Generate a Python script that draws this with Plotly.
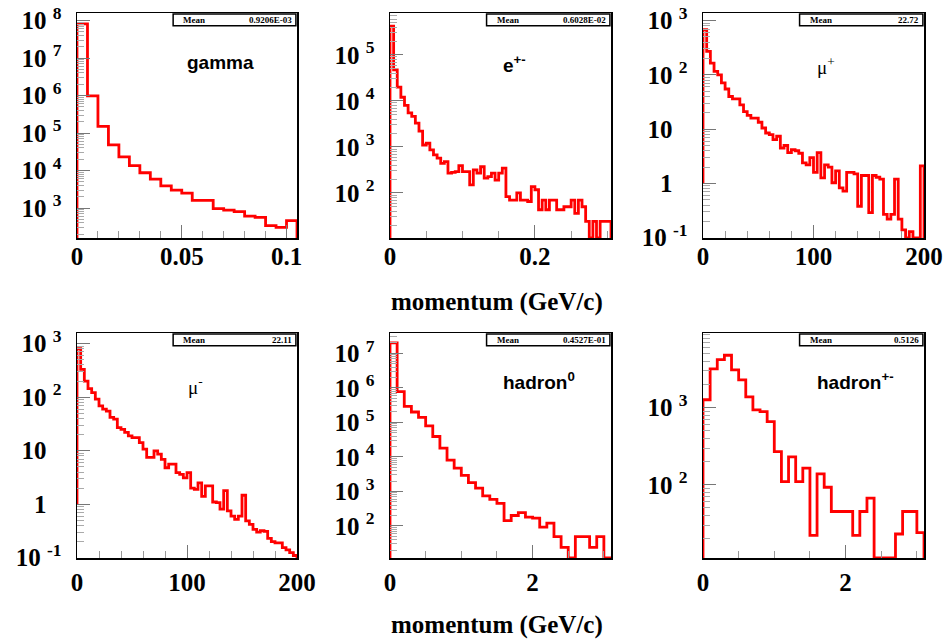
import numpy as np
import plotly.graph_objects as go

# ---------------- data ----------------
gamma_range = (0.0, 0.105)
gamma_counts = [8.1e7, 9.8e5, 1.5e5, 4.8e4, 2.3e4, 1.35e4, 8.7e3, 5.9e3, 3.9e3, 3.0e3,
                2.5e3, 1.6e3, 1.6e3, 960, 880, 800, 610, 565, 340, 305, 460]

epm_range = (0.0, 0.305)
epm_counts = [4.2e5, 4.7e4, 2.0e4, 1.2e4, 8.0e3, 5.5e3, 4.6e3, 3.3e3, 2.2e3, 1.1e3,
              1.2e3, 860, 670, 570, 440, 480, 270, 280, 290, 390,
              290, 290, 150, 316, 270, 370, 210, 225, 270, 190,
              270, 345, 83, 70, 70, 100, 70, 70, 65, 137,
              117, 43, 70, 43, 70, 70, 43, 43, 50, 50,
              70, 36, 70, 50, 24, 0, 24, 0, 24, 24, 24]

mup_range = (0.0, 200.0)
mup_counts = [680, 270, 165, 116, 100, 71, 55, 40, 36, 36,
              28, 21, 18, 16, 16, 13.4, 10.5, 8.5, 7.9, 6.4,
              7.4, 4.5, 5.0, 3.7, 4.2, 4.0, 3.6, 2.4, 2.2, 3.0,
              1.6, 3.7, 1.27, 2.2, 2.0, 1.03, 1.7, 0.83, 0.72, 1.6,
              1.6, 1.5, 0.38, 1.4, 1.4, 0.29, 1.4, 1.3, 1.2, 0.27,
              0.22, 0.27, 1.2, 0.22, 0.14, 0, 0.13, 0, 0, 2.1]

mum_range = (0.0, 200.0)
mum_counts = [810, 330, 200, 145, 122, 92, 69, 60, 55, 42,
              39, 27, 25, 22, 19, 17.6, 17.6, 14.2, 10.7, 7.5,
              7.5, 9.9, 8.6, 6.9, 4.8, 5.6, 5.6, 3.9, 3.6, 3.1,
              3.9, 2.0, 1.9, 2.5, 1.4, 2.2, 2.2, 1.1, 1.07, 0.81,
              1.8, 0.75, 0.6, 0.52, 0.6, 1.47, 0.49, 0.42, 0.34, 0.30,
              0.32, 0.31, 0.23, 0.2, 0.19, 0.19, 0.155, 0.14, 0.125, 0.11]

h0_range = (0.0, 3.1)
h0_counts = [2.0e7, 7.8e5, 2.9e5, 2.0e5, 1.4e5, 7.9e4, 3.9e4, 1.8e4, 8.1e3, 4.7e3,
             2.9e3, 1.8e3, 1.24e3, 740, 590, 450, 142, 200, 244, 180,
             167, 92, 120, 49, 24, 0, 49, 49, 24, 49, 0]

hpm_range = (0.0, 3.1)
hpm_counts = [1270, 3200, 4200, 4800, 3100, 2300, 1380, 940, 890, 660,
              270, 110, 230, 110, 165, 22, 139, 93, 45, 45,
              45, 22, 45, 67, 0, 0, 0, 23, 45, 45, 24]

labels = ["gamma", "e<sup>+-</sup>", "\u03bc<sup>+</sup>", "\u03bc<sup>-</sup>",
          "hadron<sup>0</sup>", "hadron<sup>+-</sup>"]
means = ["0.9206E-03", "0.6028E-02", "22.72", "22.11", "0.4527E-01", "0.5126"]
x_title = "momentum (GeV/c)"

x_ticks = [[0, 0.05, 0.1], [0, 0.2], [0, 100, 200], [0, 100, 200], [0, 2], [0, 2]]
x_ticktext = [["0", "0.05", "0.1"], ["0", "0.2"], ["0", "100", "200"],
              ["0", "100", "200"], ["0", "2"], ["0", "2"]]
x_minor_step = [0.01, 0.05, 20, 20, 0.5, 0.5]
y_log_range = [(2.2, 8.2), (1.02, 5.91), (-1.005, 3.14), (-1.005, 3.2), (1.07, 7.59), (1.05, 3.97)]
y_decades = [range(3, 9), range(2, 6), range(-1, 4), range(-1, 4), range(2, 8), range(2, 4)]
start_base = [None, None, 1.0, 1.0, None, None]   # where the outline starts at x=0

hists = [(gamma_range, gamma_counts), (epm_range, epm_counts), (mup_range, mup_counts),
         (mum_range, mum_counts), (h0_range, h0_counts), (hpm_range, hpm_counts)]

# ---------------- layout geometry ----------------
W, H = 944, 640
col_px = [(77, 297), (390, 611), (703, 924)]
row_px = [(13, 238), (333, 558)]
row_xlabel_standoff = [-5, 1]

SERIF = "Liberation Serif"
SANS = "Liberation Sans"
GHOST = '<sup><span style="color:rgba(0,0,0,0)">0</span></sup>'


def ylabel(k):
    if k == 0:
        return "1 " + GHOST
    if k == 1:
        return "10 " + GHOST
    return "10 <sup>%d</sup>" % k


fig = go.Figure()
label_pos = [(0.65, 0.778, "center", SANS, "bold"),
             (0.50, 0.775, "left", SANS, "bold"),
             (0.505, 0.765, "left", SERIF, "normal"),
             (0.495, 0.765, "left", SERIF, "normal"),
             (0.50, 0.785, "left", SANS, "bold"),
             (0.505, 0.785, "left", SANS, "bold")]

for i, ((xr, counts), lab, mean) in enumerate(zip(hists, labels, means)):
    n = i + 1
    xs_name = "x" if n == 1 else "x%d" % n
    ys_name = "y" if n == 1 else "y%d" % n
    r, c = divmod(i, 3)
    lo, hi = y_log_range[i]
    floor = 10 ** lo
    counts = np.asarray(counts, dtype=float)
    nb = len(counts)
    edges = np.linspace(xr[0], xr[1], nb + 1)
    vals = np.where(counts > 0, counts, floor)
    base0 = start_base[i] if start_base[i] is not None else floor
    xs = np.concatenate([[edges[0]], edges[:-1], [edges[-1], edges[-1]]])
    ys = np.concatenate([[base0], vals, [vals[-1], floor]])
    fig.add_trace(go.Scatter(x=xs, y=ys, mode="lines", line=dict(color="#ff0000", width=2.8, shape="hv"),
                             xaxis=xs_name, yaxis=ys_name, showlegend=False, hoverinfo="skip"))

    xd = (col_px[c][0] / W, col_px[c][1] / W)
    yd = (1 - row_px[r][1] / H, 1 - row_px[r][0] / H)
    minor_x = [v for v in np.arange(xr[0], xr[1] + 1e-9, x_minor_step[i]) if v not in x_ticks[i]]
    minor_y = [m * 10.0 ** k for k in range(int(np.floor(lo)) - 1, int(np.ceil(hi)) + 1)
               for m in range(2, 10) if lo < np.log10(m * 10.0 ** k) < hi]
    xkey = "xaxis" if n == 1 else "xaxis%d" % n
    ykey = "yaxis" if n == 1 else "yaxis%d" % n
    fig.update_layout(**{
        xkey: dict(domain=xd, range=list(xr), anchor=ys_name, showline=True, mirror=True,
                   automargin=False, ticklabeloverflow="allow",
                   linecolor="black", linewidth=1.5, showgrid=False, zeroline=False,
                   ticks="inside", ticklen=13, tickwidth=1, tickcolor="#777",
                   tickmode="array", tickvals=x_ticks[i], ticktext=x_ticktext[i],
                   ticklabelstandoff=row_xlabel_standoff[r],
                   tickfont=dict(family=SERIF, size=25, color="black", weight="bold"),
                   minor=dict(tickmode="array", tickvals=minor_x, ticks="inside", ticklen=7,
                              tickwidth=1, tickcolor="#999")),
        ykey: dict(domain=yd, type="log", range=[lo, hi], anchor=xs_name, showline=True, mirror=True,
                   automargin=False, ticklabeloverflow="allow",
                   linecolor="black", linewidth=1.5, showgrid=False, zeroline=False,
                   ticks="inside", ticklen=13, tickwidth=1, tickcolor="#777",
                   tickmode="array", tickvals=[10.0 ** k for k in y_decades[i]],
                   ticktext=[ylabel(k) for k in y_decades[i]], ticklabelstandoff=9,
                   tickfont=dict(family=SERIF, size=25, color="black", weight="bold"),
                   minor=dict(tickmode="array", tickvals=minor_y, ticks="inside", ticklen=7,
                              tickwidth=1, tickcolor="#aaa")),
    })
    # stats box
    dref_x = "%s domain" % xs_name
    dref_y = "%s domain" % ys_name
    fig.add_shape(type="rect", xref=dref_x, yref=dref_y, x0=0.437, x1=0.995, y0=0.943, y1=0.996,
                  line=dict(color="black", width=1.5), fillcolor="white")
    fig.add_annotation(xref=dref_x, yref=dref_y, x=0.473, y=0.969, text="Mean", showarrow=False,
                       xanchor="left", yanchor="middle",
                       font=dict(family=SERIF, size=9, color="black", weight="bold"))
    fig.add_annotation(xref=dref_x, yref=dref_y, x=0.985, y=0.969, text=mean, showarrow=False,
                       xanchor="right", yanchor="middle",
                       font=dict(family=SERIF, size=9, color="black", weight="bold"))
    lx, ly, anc, fam, wt = label_pos[i]
    fig.add_annotation(xref=dref_x, yref=dref_y, x=lx, y=ly, text=lab, showarrow=False,
                       xanchor=anc, yanchor="middle",
                       font=dict(family=fam, size=19, color="black", weight=wt))

for yc in (302, 625):
    fig.add_annotation(xref="paper", yref="paper", x=497 / W, y=1 - yc / H, text=x_title,
                       showarrow=False, xanchor="center", yanchor="middle",
                       font=dict(family=SERIF, size=25, color="black", weight="bold"))

fig.update_layout(width=W, height=H, margin=dict(l=0, r=0, t=0, b=0, autoexpand=False),
                  paper_bgcolor="white", plot_bgcolor="white", showlegend=False)
# remove the default 8px page margin so the figure fills the window exactly
fig.write_html("out.html", config={"displayModeBar": False, "staticPlot": True},
               post_script="document.body.style.margin='0';document.body.style.overflow='hidden';")
